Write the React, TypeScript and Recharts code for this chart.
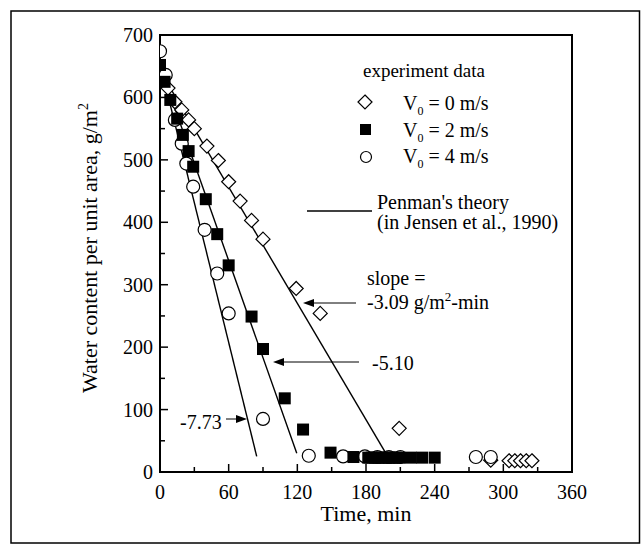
import React from 'react';
import { ComposedChart, Line, Scatter, XAxis, YAxis, ReferenceArea } from 'recharts';

// experiment data, V0 = 0 m/s (diamonds)
const v0Time = [0, 7, 13, 19, 25, 30, 41, 51, 60, 70, 80, 90, 119, 140, 209, 289, 305, 310, 315, 320, 325];
const v0Water = [643, 615, 593, 580, 564, 550, 522, 499, 465, 434, 403, 373, 294, 254, 70, 19, 18, 18, 18, 18, 18];

// V0 = 2 m/s (filled squares)
const v2Time = [0, 4, 9, 15, 20, 25, 29, 40, 50, 60, 80, 90, 109, 125, 149, 169, 182, 185, 188, 191, 194, 197, 200, 203, 206, 209, 219, 229, 240];
const v2Water = [652, 625, 596, 566, 540, 514, 489, 437, 381, 331, 249, 197, 118, 68, 31, 24, 23, 23, 23, 23, 23, 23, 23, 23, 23, 23, 23, 23, 23];

// V0 = 4 m/s (open circles)
const v4Time = [0, 5, 13, 19, 23, 29, 39, 50, 60, 90, 130, 160, 179, 190, 200, 210, 276, 289];
const v4Water = [674, 636, 564, 526, 494, 457, 388, 318, 254, 85, 26, 25, 25, 24, 24, 24, 24, 24];

// Penman's theory lines
const theory0Time = [0, 197];
const theory0Water = [643, 31];
const theory2Time = [0, 119.5];
const theory2Water = [650, 30];
const theory4Time = [0, 84.5];
const theory4Water = [655, 25];

const xTicks = [0, 30, 60, 90, 120, 150, 180, 210, 240, 270, 300, 330, 360];
const yTicks = [0, 50, 100, 150, 200, 250, 300, 350, 400, 450, 500, 550, 600, 650, 700];

const zip = (t: number[], w: number[]) => t.map((v, i) => ({ t: v, w: w[i] }));

const FONT = 'Liberation Serif, DejaVu Serif, serif';
const serif = { fontFamily: FONT };

const Diamond = (props: any) => {
  const { cx, cy } = props;
  const r = 7;
  return (
    <path
      d={`M${cx},${cy - r}L${cx + r},${cy}L${cx},${cy + r}L${cx - r},${cy}Z`}
      fill="#fff"
      stroke="#000"
      strokeWidth={1.2}
    />
  );
};

const Square = (props: any) => {
  const { cx, cy } = props;
  return <rect x={cx - 6} y={cy - 6} width={12} height={12} fill="#000" />;
};

const Circle = (props: any) => {
  const { cx, cy } = props;
  return <circle cx={cx} cy={cy} r={6.5} fill="#fff" stroke="#000" strokeWidth={1.2} />;
};

const XTick = (props: any) => {
  const { x, y, payload } = props;
  const v = payload.value;
  const major = v % 60 === 0;
  return (
    <g>
      <line x1={x} x2={x} y1={y} y2={y - (major ? 8 : 5)} stroke="#000" strokeWidth={1.5} />
      {major && (
        <text x={x} y={y + 27} textAnchor="middle" style={serif} fontSize={20} fill="#000">
          {v}
        </text>
      )}
    </g>
  );
};

const YTick = (props: any) => {
  const { x, y, payload } = props;
  const v = payload.value;
  const major = v % 100 === 0;
  return (
    <g>
      <line x1={x} x2={x + (major ? 8 : 5)} y1={y} y2={y} stroke="#000" strokeWidth={1.5} />
      {major && (
        <text x={x - 7} y={y + 7} textAnchor="end" style={serif} fontSize={20} fill="#000">
          {v}
        </text>
      )}
    </g>
  );
};

const Overlay = () => (
  <svg
    width={641}
    height={544}
    style={{ position: 'absolute', left: 0, top: 0, pointerEvents: 'none', fontFamily: FONT }}
    fill="#000"
  >
    <rect x={11} y={11} width={628.5} height={532} fill="none" stroke="#000" strokeWidth={1.5} />

    {/* axis titles */}
    <text x={0} y={0} transform="translate(97,248) rotate(-90)" textAnchor="middle" fontSize={22}>
      Water content per unit area, g/m<tspan dy={-9} fontSize={14}>2</tspan>
    </text>
    <text x={366} y={521} textAnchor="middle" fontSize={22}>
      Time, min
    </text>

    {/* legend */}
    <text x={363} y={77} fontSize={19}>experiment data</text>
    <path d="M365,95L372,102L365,109L358,102Z" fill="#fff" stroke="#000" strokeWidth={1.2} />
    <text x={403} y={110} fontSize={20}>
      V<tspan dy={5} fontSize={12}>0</tspan>
      <tspan dy={-5}> = 0 m/s</tspan>
    </text>
    <rect x={360} y={124} width={11} height={11} fill="#000" />
    <text x={403} y={137} fontSize={20}>
      V<tspan dy={5} fontSize={12}>0</tspan>
      <tspan dy={-5}> = 2 m/s</tspan>
    </text>
    <circle cx={366} cy={157} r={5.5} fill="#fff" stroke="#000" strokeWidth={1.2} />
    <text x={403} y={163} fontSize={20}>
      V<tspan dy={5} fontSize={12}>0</tspan>
      <tspan dy={-5}> = 4 m/s</tspan>
    </text>
    <line x1={307} x2={372} y1={211} y2={211} stroke="#000" strokeWidth={1.5} />
    <text x={377} y={209} fontSize={20}>Penman's theory</text>
    <text x={377} y={229} fontSize={20}>(in Jensen et al., 1990)</text>

    {/* slope annotations */}
    <text x={367} y={285} fontSize={20}>slope =</text>
    <text x={367} y={309} fontSize={20}>
      -3.09 g/m<tspan dy={-8} fontSize={13}>2</tspan>
      <tspan dy={8}>-min</tspan>
    </text>
    <line x1={311} x2={356} y1={303} y2={303} stroke="#000" strokeWidth={1} />
    <path d="M303,303L314,299L314,307Z" fill="#000" />

    <text x={372} y={370} fontSize={20}>-5.10</text>
    <line x1={281} x2={359} y1={362} y2={362} stroke="#000" strokeWidth={1} />
    <path d="M273,362L284,358L284,366Z" fill="#000" />

    <text x={180} y={429} fontSize={20}>-7.73</text>
    <line x1={226} x2={238} y1={419} y2={419} stroke="#000" strokeWidth={1} />
    <path d="M247,419L236,415L236,423Z" fill="#000" />
  </svg>
);

export default function App() {
  return (
    <div style={{ position: 'absolute', left: 0, top: 0, width: 641, height: 544, background: '#fff' }}>
      <ComposedChart width={641} height={544} margin={{ top: 35, right: 69, bottom: 22, left: 100 }}>
        <XAxis
          type="number"
          dataKey="t"
          domain={[0, 360]}
          ticks={xTicks}
          interval={0}
          tickSize={0}
          tickMargin={0}
          tickLine={false}
          tick={<XTick />}
          height={50}
          axisLine={{ stroke: '#000', strokeWidth: 2 }}
          allowDataOverflow
        />
        <YAxis
          type="number"
          dataKey="w"
          domain={[0, 700]}
          ticks={yTicks}
          interval={0}
          tickSize={0}
          tickMargin={0}
          tickLine={false}
          tick={<YTick />}
          width={60}
          axisLine={{ stroke: '#000', strokeWidth: 2 }}
          allowDataOverflow
        />
        <ReferenceArea x1={0} x2={360} y1={0} y2={700} fill="none" stroke="#000" strokeWidth={2} ifOverflow="visible" />
        <Line data={zip(theory0Time, theory0Water)} dataKey="w" type="linear" stroke="#000" strokeWidth={1.4} dot={false} isAnimationActive={false} />
        <Line data={zip(theory2Time, theory2Water)} dataKey="w" type="linear" stroke="#000" strokeWidth={1.4} dot={false} isAnimationActive={false} />
        <Line data={zip(theory4Time, theory4Water)} dataKey="w" type="linear" stroke="#000" strokeWidth={1.4} dot={false} isAnimationActive={false} />
        <Scatter data={zip(v0Time, v0Water)} dataKey="w" shape={<Diamond />} isAnimationActive={false} />
        <Scatter data={zip(v4Time, v4Water)} dataKey="w" shape={<Circle />} isAnimationActive={false} />
        <Scatter data={zip(v2Time, v2Water)} dataKey="w" shape={<Square />} isAnimationActive={false} />
      </ComposedChart>
      <Overlay />
    </div>
  );
}
